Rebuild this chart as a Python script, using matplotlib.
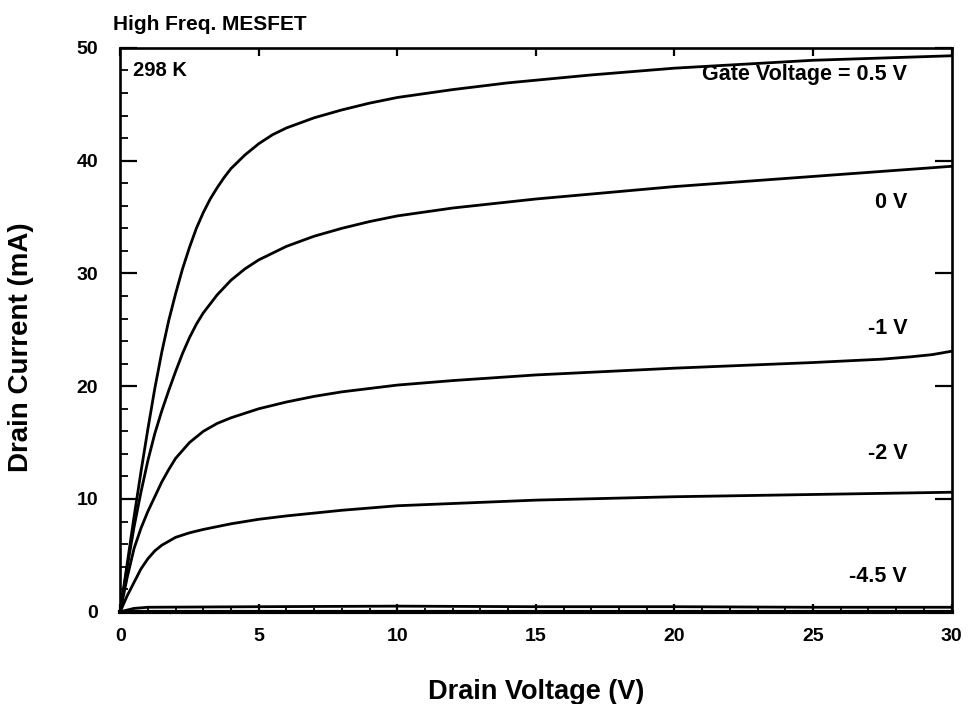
import matplotlib.pyplot as plt
from matplotlib.ticker import MultipleLocator

plt.rcParams['font.family'] = ['Liberation Sans', 'DejaVu Sans']
plt.rcParams['font.weight'] = 'bold'

# drain voltage (V) / drain current (mA)
v_p05 = [0, 0.25, 0.5, 0.75, 1, 1.25, 1.5, 1.75, 2, 2.25, 2.5, 2.75, 3, 3.25, 3.5, 3.75, 4, 4.5,
         5, 5.5, 6, 7, 8, 9, 10, 12, 14, 17, 20, 25, 30]
i_p05 = [0, 4.2, 8.4, 12.4, 16.2, 19.8, 23.0, 25.8, 28.2, 30.4, 32.3, 34.0, 35.4, 36.6, 37.6, 38.5, 39.3, 40.5,
         41.5, 42.3, 42.9, 43.8, 44.5, 45.1, 45.6, 46.3, 46.9, 47.6, 48.2, 48.9, 49.3]

v_0 = [0, 0.25, 0.5, 0.75, 1, 1.25, 1.5, 1.75, 2, 2.25, 2.5, 2.75, 3, 3.5, 4, 4.5, 5, 6, 7, 8, 9, 10,
       12, 15, 20, 25, 30]
i_0 = [0, 3.9, 7.5, 10.6, 13.4, 15.8, 17.8, 19.6, 21.3, 22.9, 24.3, 25.5, 26.5, 28.1, 29.4, 30.4, 31.2,
       32.4, 33.3, 34.0, 34.6, 35.1, 35.8, 36.6, 37.7, 38.6, 39.5]

v_m1 = [0, 0.25, 0.5, 0.75, 1, 1.25, 1.5, 1.75, 2, 2.5, 3, 3.5, 4, 5, 6, 7, 8, 10, 12, 15, 20, 25,
        27.5, 28.5, 29.3, 30]
i_m1 = [0, 3.0, 5.6, 7.4, 8.9, 10.2, 11.5, 12.6, 13.6, 15.0, 16.0, 16.7, 17.2, 18.0, 18.6, 19.1, 19.5,
        20.1, 20.5, 21.0, 21.6, 22.1, 22.4, 22.6, 22.8, 23.1]

v_m2 = [0, 0.25, 0.5, 0.75, 1, 1.25, 1.5, 2, 2.5, 3, 4, 5, 6, 8, 10, 12, 15, 20, 25, 30]
i_m2 = [0, 1.4, 2.6, 3.8, 4.7, 5.4, 5.9, 6.6, 7.0, 7.3, 7.8, 8.2, 8.5, 9.0, 9.4, 9.6, 9.9, 10.2, 10.4, 10.6]

v_m45 = [0, 0.5, 1, 5, 10, 15, 20, 25, 30]
i_m45 = [0, 0.3, 0.4, 0.45, 0.5, 0.45, 0.45, 0.4, 0.4]

curves = [(v_p05, i_p05), (v_0, i_0), (v_m1, i_m1), (v_m2, i_m2), (v_m45, i_m45)]
gate_labels = ['Gate Voltage = 0.5 V', '0 V', '-1 V', '-2 V', '-4.5 V']
label_y = [47.6, 36.3, 25.1, 14.0, 3.1]

fig = plt.figure(figsize=(9.69, 7.04), dpi=100)
ax = fig.add_axes([0.124, 0.131, 0.858, 0.801])

for v, i in curves:
    ax.plot(v, i, color='black', lw=2.0, solid_capstyle='round', solid_joinstyle='round')

for txt, y in zip(gate_labels, label_y):
    ax.text(28.4, y, txt, ha='right', va='center', fontsize=15.5, fontweight='bold')

ax.text(0.45, 48.0, '298 K', ha='left', va='center', fontsize=14.5, fontweight='bold')

ax.set_xlim(0, 30)
ax.set_ylim(0, 50)
ax.xaxis.set_major_locator(MultipleLocator(5))
ax.xaxis.set_minor_locator(MultipleLocator(1))
ax.yaxis.set_major_locator(MultipleLocator(10))
ax.yaxis.set_minor_locator(MultipleLocator(2))

ax.tick_params(which='major', direction='in', top=True, right=True,
               width=1.6, labelsize=14)
ax.tick_params(axis='x', which='major', length=6, pad=12)
ax.tick_params(axis='y', which='major', length=12, pad=16)
ax.tick_params(which='minor', direction='in', top=False, right=False, width=1.3)
ax.tick_params(axis='x', which='minor', length=3)
ax.tick_params(axis='y', which='minor', length=6)
for s in ax.spines.values():
    s.set_linewidth(1.9)
ax.spines['bottom'].set_linewidth(3)

ax.set_xlabel('Drain Voltage (V)', fontsize=19.5, fontweight='bold')
ax.xaxis.set_label_coords(0.5, -0.12)
ax.set_ylabel('Drain Current (mA)', fontsize=20, fontweight='bold')
ax.yaxis.set_label_coords(-0.104, 0.47)

fig.text(0.117, 0.965, 'High Freq. MESFET', ha='left', va='center', fontsize=15, fontweight='bold')

fig.savefig('out.png', dpi=100)
